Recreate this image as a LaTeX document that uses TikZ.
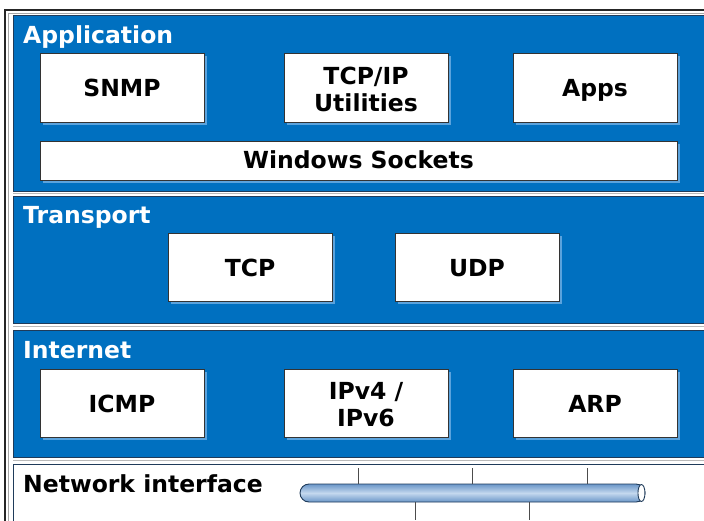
\documentclass[tikz,border=0pt]{standalone}
\usepackage{fontspec}
\setmainfont{DejaVu Sans}
\usetikzlibrary{shadows}
\definecolor{panelblue}{HTML}{0070C0}
\definecolor{paneledge}{HTML}{1F3B5A}
\definecolor{busmid}{HTML}{C4D8EE}
\definecolor{busdark}{HTML}{6A96C8}
\definecolor{glow}{HTML}{5BA3DD}
\tikzset{
  panel/.style={fill=panelblue, draw=paneledge, line width=1pt},
  gapline/.style={draw=gray!55, line width=0.8pt},
  layerlabel/.style={anchor=base west, inner sep=0pt, text=white, font=\fontsize{23.5}{27}\selectfont\bfseries},
  protobox/.style={draw=black!80, fill=white, line width=0.9pt, minimum width=164pt, minimum height=69pt,
    inner sep=0pt, align=center, font=\fontsize{23.5}{27}\selectfont\bfseries,
    text height=21pt, text depth=3pt,
    general shadow={fill=glow, draw=none, shadow xshift=2.5pt, shadow yshift=-2.5pt}},
  twoline/.style={text height=50pt, text depth=3pt},
  tick/.style={draw=black!70, line width=0.9pt},
}
\begin{document}
\begin{tikzpicture}[x=1pt,y=-1pt]
\useasboundingbox (0,0) rectangle (704,520);
\clip (0,0) rectangle (704,520);
\fill[white] (0,0) rectangle (704,520);
% outer frame
\draw[line width=2pt, black!85] (5,10) rectangle (730,540);
\draw[line width=0.8pt, gray!70] (8.5,13) rectangle (730,540);
% panels
\draw[panel] (13,15) rectangle (730,191);
\draw[panel] (13,196) rectangle (730,323);
\draw[panel] (13,330) rectangle (730,457);
\draw[fill=white, draw=paneledge, line width=1pt] (13,464) rectangle (730,540);
\draw[gapline] (13,193.5) -- (730,193.5);
\draw[gapline] (13,326.5) -- (730,326.5);
\draw[gapline] (13,460.5) -- (730,460.5);
% labels
\node[layerlabel] (lapp) at (23,43.5) {Application};
\node[layerlabel] (ltrans) at (23,223) {Transport};
\node[layerlabel] (linet) at (23,358) {Internet};
\node[layerlabel, text=black] (lnet) at (23,492) {Network interface};
% application boxes
\node[protobox] (snmp) at (122,87.5) {SNMP};
\node[protobox, twoline] (util) at (366,87.5) {TCP/IP\\Utilities};
\node[protobox] (apps) at (595,87.5) {Apps};
\node[protobox, minimum width=637pt, minimum height=39pt, text height=19pt, text depth=3pt] (sock) at (358.5,160.5) {Windows Sockets};
% transport boxes
\node[protobox, minimum height=68pt] (tcp) at (250,267) {TCP};
\node[protobox, minimum height=68pt] (udp) at (477,267) {UDP};
% internet boxes
\node[protobox, minimum height=68pt] (icmp) at (122,403) {ICMP};
\node[protobox, minimum height=68pt, twoline] (ip) at (366,403) {IPv4 /\\IPv6};
\node[protobox, minimum height=68pt] (arp) at (595,403) {ARP};
% network bus
\node[draw=paneledge, line width=0.9pt, rounded corners=9pt, minimum width=345pt, minimum height=18pt, inner sep=0pt,
  top color=busdark, bottom color=busdark, middle color=busmid] (bus) at (472.5,493) {};
\draw[fill=white, draw=paneledge, line width=0.9pt] ([xshift=-4pt]bus.east) ellipse [x radius=3.5pt, y radius=8.5pt];
\coordinate (u1) at (358,468);
\coordinate (u2) at (472,468);
\coordinate (u3) at (587,468);
\coordinate (d1) at (415,520);
\coordinate (d2) at (529,520);
\draw[tick] (u1) -- (u1 |- bus.north);
\draw[tick] (u2) -- (u2 |- bus.north);
\draw[tick] (u3) -- (u3 |- bus.north);
\draw[tick] (bus.south -| d1) -- (d1);
\draw[tick] (bus.south -| d2) -- (d2);
\end{tikzpicture}
\end{document}
